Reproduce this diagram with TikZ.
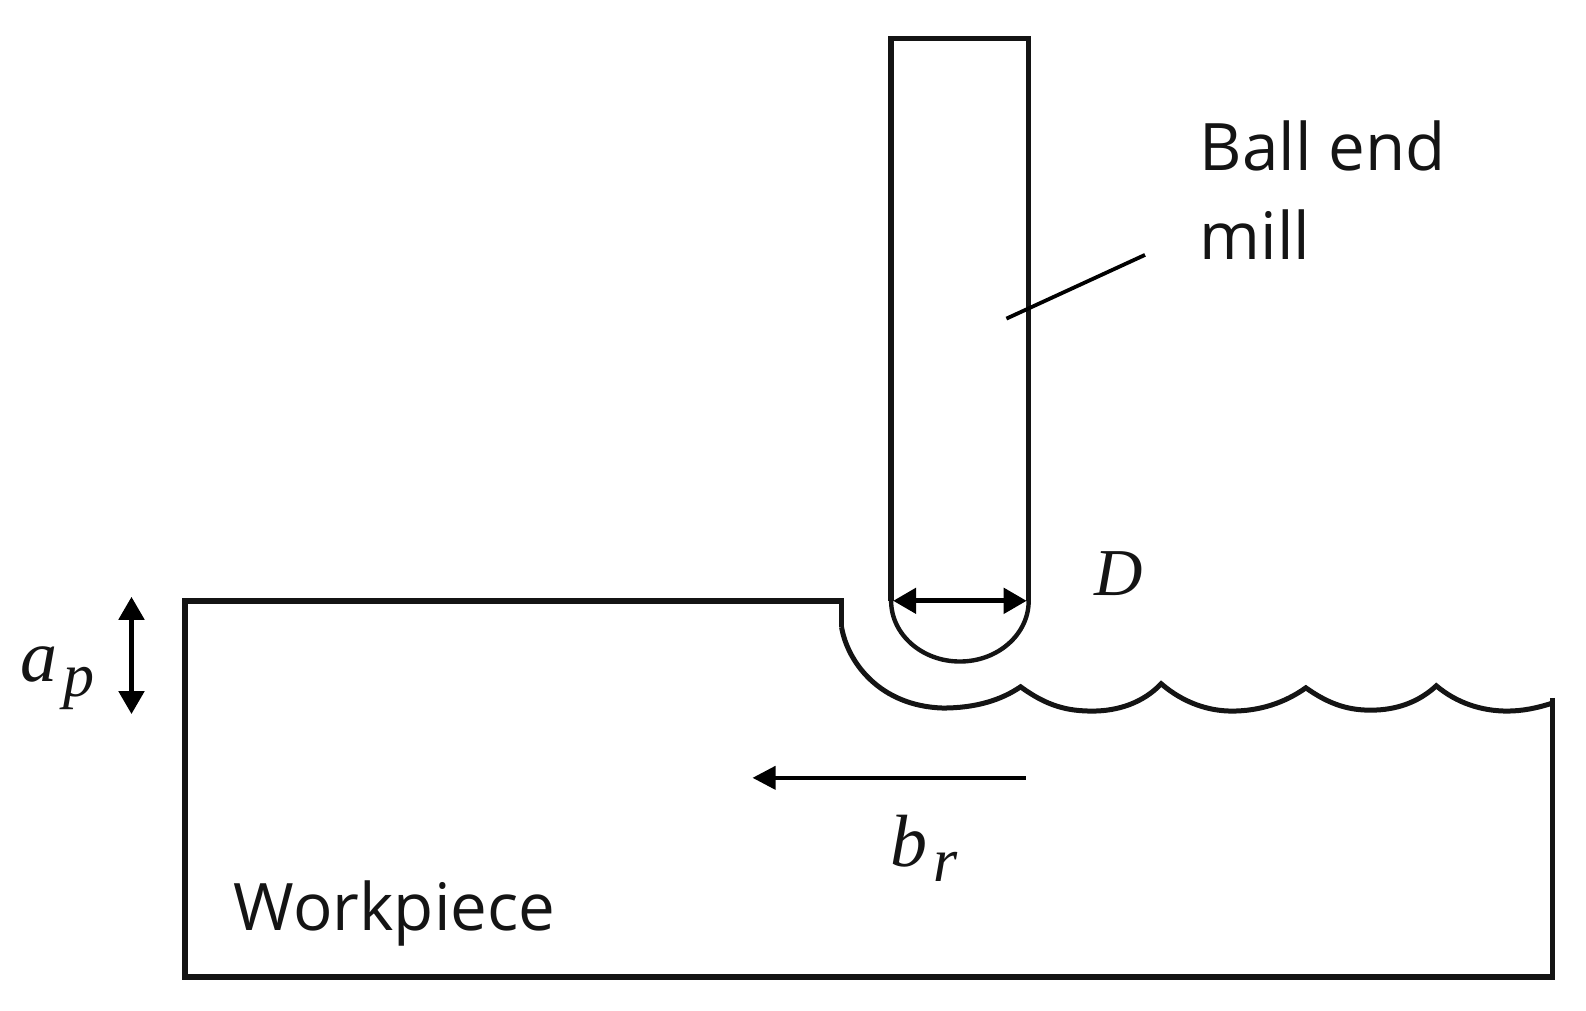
\documentclass[tikz,border=0pt]{standalone}
\usepackage{fontspec}
\setmainfont{Open Sans}
\newfontfamily\mathlike{Liberation Serif}
\usetikzlibrary{arrows.meta}
\newcommand{\mysub}[1]{\hspace{0.08em}\raisebox{-0.2em}{\fontsize{62}{66}\selectfont\itshape #1}}
\tikzset{
  px/.style={x=1.0115pt,y=-1.0115pt},
  outline/.style={line width=5.4pt,draw=black!92,line join=miter},
  ball/.style={line width=4.4pt,draw=black!92},
  wave/.style={line width=5pt,draw=black!92,line join=miter},
  thin line/.style={line width=3.8pt,draw=black},
  dim/.style={line width=5pt,draw=black,{Triangle[length=23pt,width=25pt]}-{Triangle[length=23pt,width=25pt]}},
  lead/.style={line width=4pt,draw=black,-{Triangle[length=23pt,width=23pt]}},
  lbl/.style={inner sep=0pt,font=\fontsize{65.5}{89}\selectfont,align=left,text=black!92},
  mathlbl/.style={inner sep=0pt,font=\mathlike\itshape\fontsize{67}{72}\selectfont,text=black!92},
  bigglyph/.style={font=\mathlike\itshape\fontsize{74}{78}\selectfont}
}
\begin{document}
\begin{tikzpicture}[px]
\useasboundingbox (0,0) rectangle (1568,999.5);
\draw[outline] (881,594) -- (881,38) -- (1017,38) -- (1017,594);
\draw[ball] (881,594) arc[start angle=180,end angle=0,x radius=68,y radius=60];
\coordinate (dl) at (883,594);
\coordinate (dr) at (1015,594);
\draw[dim] (dl) -- (dr);
\draw[outline] (1535,690) -- (1535,966) -- (183,966) -- (183,594) -- (832,594) -- (832,620);
\draw[wave] (832,620)
 .. controls (838,655) and (870,698) .. (932,700)
 .. controls (965,700) and (990,692) .. (1009,679)
 .. controls (1035,698) and (1055,703) .. (1080,703)
 .. controls (1105,703) and (1130,695) .. (1148,676)
 .. controls (1170,695) and (1195,703) .. (1218,703)
 .. controls (1245,703) and (1270,695) .. (1291,680)
 .. controls (1315,697) and (1335,703) .. (1360,702)
 .. controls (1385,701) and (1405,692) .. (1420,678)
 .. controls (1440,695) and (1465,703) .. (1490,703)
 .. controls (1505,703) and (1520,700) .. (1535,695);
\coordinate (ap1) at (130,590);
\coordinate (ap2) at (130,706);
\draw[dim] (ap1) -- (ap2);
\coordinate (br1) at (1014,769);
\coordinate (br2) at (744,769);
\draw[lead] (br1) -- (br2);
\coordinate (l1) at (1132,252);
\coordinate (l2) at (995,315);
\draw[thin line] (l1) -- (l2);
\node[lbl,anchor=base west] (ball) at (1186,257) {Ball end\\mill};
\node[lbl,anchor=base west] (work) at (231,920) {Workpiece};
\node[mathlbl,anchor=base west] (d) at (1082,589) {D};
\node[mathlbl,bigglyph,anchor=base west] (ap) at (20,674) {a\mysub{p}};
\node[mathlbl,bigglyph,anchor=base west] (br) at (880,857) {b\mysub{r}};
\end{tikzpicture}
\end{document}
